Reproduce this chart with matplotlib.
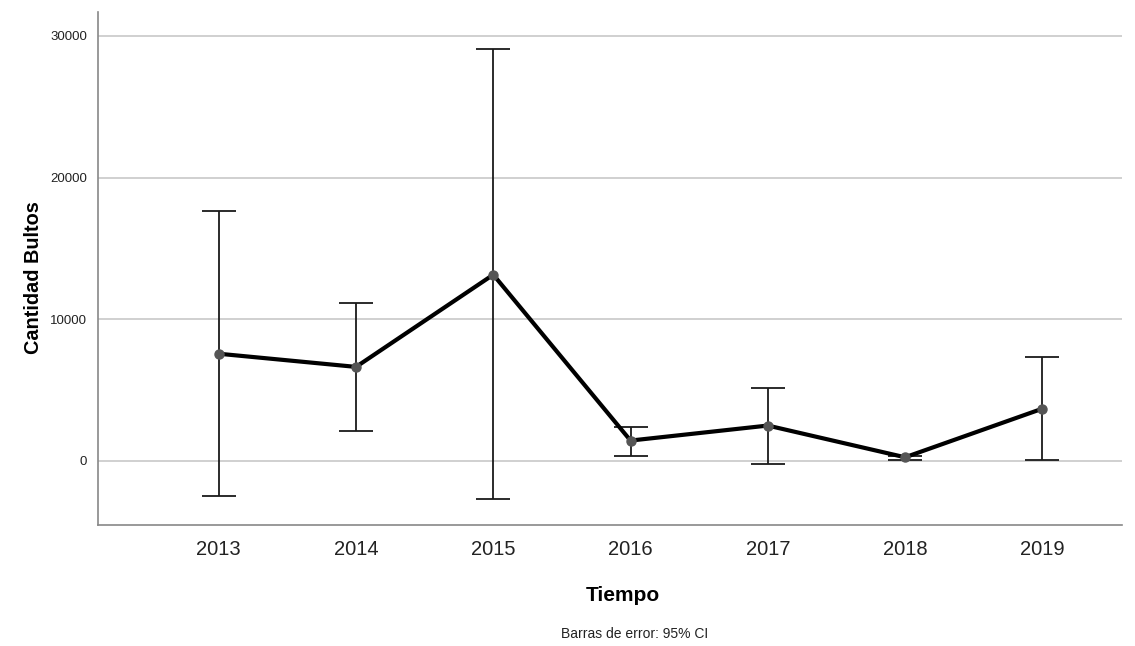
import matplotlib
matplotlib.use('Agg')
import matplotlib.pyplot as plt
import numpy as np

plt.rcParams['font.family'] = ['Liberation Sans', 'DejaVu Sans']

# mean and 95% CI per year
years = ['2013', '2014', '2015', '2016', '2017', '2018', '2019']
means = [7570, 6640, 13150, 1440, 2500, 260, 3690]
ci_low = [-2475, 2095, -2705, 380, -185, 50, 95]
ci_high = [17620, 11140, 29050, 2380, 5180, 350, 7340]

x = np.arange(len(years))
means = np.array(means)
err = [means - np.array(ci_low), np.array(ci_high) - means]

fig = plt.figure(figsize=(11.35, 6.46), dpi=100)
ax = fig.add_axes([0.0863, 0.1873, 0.9022, 0.7941])

ax.errorbar(x, means, yerr=err, fmt='none', ecolor='#1a1a1a', elinewidth=1.3,
            capsize=12, capthick=1.3, zorder=2)
ax.plot(x, means, color='black', linewidth=3, zorder=3)
ax.plot(x, means, 'o', color='#555555', markersize=6.5, zorder=4)

ax.set_xlim(-0.88, 6.58)
ax.set_ylim(-4520, 31690)
ax.set_yticks([0, 10000, 20000, 30000])
ax.set_xticks(x)
ax.set_xticklabels(years, fontsize=14.5, color='#222222')
ax.tick_params(axis='y', labelsize=9.5, length=0, pad=8, colors='#222222')
ax.tick_params(axis='x', length=0, pad=11)
ax.yaxis.grid(True, color='#c8c8c8', linewidth=1.2)
ax.set_axisbelow(True)
for s in ['top', 'right']:
    ax.spines[s].set_visible(False)
for s in ['left', 'bottom']:
    ax.spines[s].set_color('#888888')
    ax.spines[s].set_linewidth(1.2)

ax.set_ylabel('Cantidad Bultos', fontsize=14.3, fontweight='bold')
ax.yaxis.set_label_coords(-0.054, 0.483)
ax.set_xlabel('Tiempo', fontsize=15, fontweight='bold')
ax.xaxis.set_label_coords(0.513, -0.118)
fig.text(0.5595, 0.013, 'Barras de error: 95% CI', ha='center', fontsize=10, color='#222222')

fig.savefig('out.png', dpi=100)
